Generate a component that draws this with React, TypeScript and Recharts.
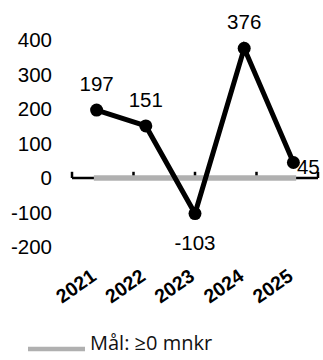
import React from 'react';
import { LineChart, Line, XAxis, YAxis, ReferenceLine, LabelList, Legend } from 'recharts';

const years = ['2021', '2022', '2023', '2024', '2025'];
const result = [197, 151, -103, 376, 45];
const target = [0, 0, 0, 0, 0];
const yTicks = [-200, -100, 0, 100, 200, 300, 400];
const labelPositions = ['top', 'top', 'bottom', 'top', 'right'];
const boundaryTicks = [0, 1, 2, 3, 4, 5];
const boundaryTickHeight = 18;
const targetName = 'Mål: ≥0 mnkr';

const data = years.map((year, i) => ({ year, result: result[i], target: target[i] }));

const FONT = '"Liberation Sans", Arial, sans-serif';

const RotTick = (props: any) => {
  const { x, y, payload } = props;
  const ax = x + 1;
  const ay = y + 32;
  return (
    <text
      x={ax}
      y={ay}
      transform={`rotate(-35 ${ax} ${ay})`}
      textAnchor="end"
      fontSize={19.5}
      fontWeight="bold"
      fontFamily={FONT}
      fill="#000"
    >
      {payload.value}
    </text>
  );
};

const PointLabel = (props: any) => {
  const { x, y, value } = props;
  let index = props.index;
  if (index === undefined || index === null) index = result.indexOf(value);
  const pos = labelPositions[index] || 'top';
  let tx = x;
  let ty = y - 19;
  let anchor: any = 'middle';
  if (pos === 'bottom') {
    ty = y + 36.5;
  } else if (pos === 'right') {
    tx = x + 3.5;
    ty = y + 12;
    anchor = 'start';
  }
  return (
    <text x={tx} y={ty} textAnchor={anchor} fontSize={20.5} fontFamily={FONT} fill="#000">
      {value}
    </text>
  );
};

const LegendContent = (props: any) => {
  const payload = (props.payload || []).filter((p: any) => p.type !== 'none');
  return (
    <svg width={323} height={30} style={{ display: 'block' }}>
      {payload.map((p: any) => (
        <g key={p.value}>
          <line x1={28} x2={85} y1={19} y2={19} stroke="#b0b0b0" strokeWidth={4.5} />
          <text x={90} y={20} fontSize={20} fontFamily='"Open Sans", sans-serif' fill="#111">
            {p.value}
          </text>
        </g>
      ))}
    </svg>
  );
};

export default function App() {
  return (
    <div style={{ position: 'absolute', left: 0, top: 0, width: 323, height: 360 }}>
      <LineChart
        width={323}
        height={360}
        data={data}
        margin={{ top: 40, right: 5, left: 8, bottom: 53 }}
      >
        <XAxis
          dataKey="year"
          scale="point"
          padding={{ left: 24.6, right: 24.6 }}
          axisLine={false}
          tickLine={false}
          tickSize={0}
          tickMargin={0}
          height={60}
          interval={0}
          tick={<RotTick />}
        />
        <XAxis xAxisId="grid" type="number" domain={[0, 5]} hide />
        <YAxis
          domain={[-200, 400]}
          ticks={yTicks}
          interval={0}
          axisLine={false}
          tickLine={false}
          tickSize={0}
          tickMargin={20}
          width={64}
          tick={{ fontSize: 20.5, fill: '#000', fontFamily: FONT }}
        />
        <ReferenceLine y={0} stroke="#000" strokeWidth={2.7} />
        {boundaryTicks.map((b) => (
          <ReferenceLine
            key={b}
            xAxisId="grid"
            segment={[{ x: b, y: 0 }, { x: b, y: boundaryTickHeight }]}
            stroke="#000"
            strokeWidth={2.5}
          />
        ))}
        <Line
          dataKey="target"
          name={targetName}
          stroke="#b0b0b0"
          strokeWidth={5.5}
          strokeLinecap="square"
          dot={false}
          activeDot={false}
          isAnimationActive={false}
        />
        <Line
          dataKey="result"
          stroke="#000"
          strokeWidth={5}
          dot={{ r: 6.5, fill: '#000', stroke: '#000', strokeWidth: 0 }}
          activeDot={false}
          legendType="none"
          isAnimationActive={false}
        >
          <LabelList dataKey="result" content={<PointLabel />} />
        </Line>
        <Legend
          verticalAlign="middle"
          align="center"
          layout="horizontal"
          wrapperStyle={{ left: 0, top: 330, width: 323, height: 30 }}
          content={<LegendContent />}
        />
      </LineChart>
    </div>
  );
}
